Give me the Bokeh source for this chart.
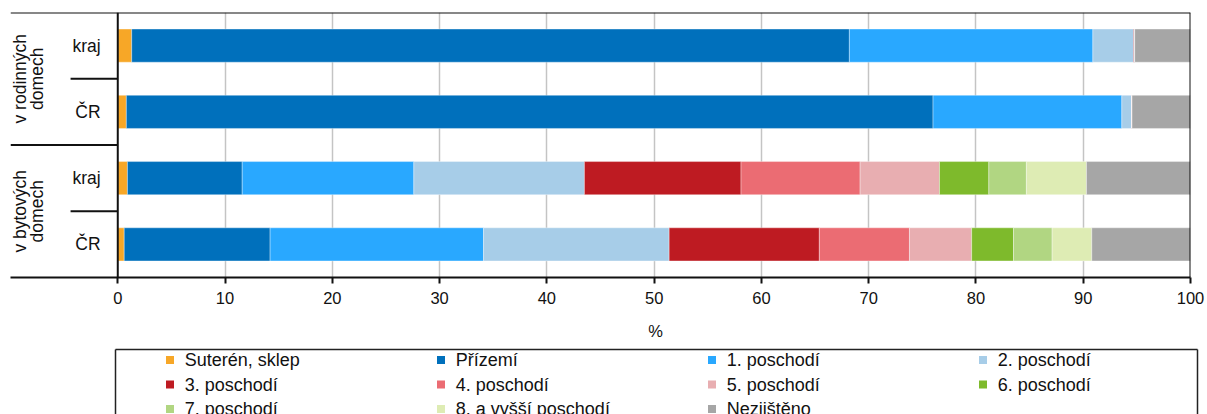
from bokeh.plotting import figure
from bokeh.layouts import column
from bokeh.models import ColumnDataSource, Range1d, FixedTicker, Span
from bokeh.core.properties import value
from bokeh.embed import file_html
from bokeh.resources import INLINE
from math import pi

FONT = "Liberation Sans"

# ---- data -------------------------------------------------------------
group_line1 = ["v rodinných", "v bytových"]
group_line2 = ["domech", "domech"]
subgroups = ["kraj", "ČR", "kraj", "ČR"]          # rows top -> bottom
series_names = ["Suterén, sklep", "Přízemí", "1. poschodí", "2. poschodí",
                "3. poschodí", "4. poschodí", "5. poschodí", "6. poschodí",
                "7. poschodí", "8. a vyšší poschodí", "Nezjištěno"]
suteren = [1.3, 0.8, 0.9, 0.6]
prizemi = [66.9, 75.2, 10.7, 13.6]
posch1 = [22.7, 17.6, 16.0, 19.9]
posch2 = [3.8, 0.9, 15.9, 17.3]
posch3 = [0.1, 0.05, 14.6, 14.0]
posch4 = [0.0, 0.0, 11.1, 8.4]
posch5 = [0.0, 0.0, 7.4, 5.8]
posch6 = [0.0, 0.0, 4.6, 3.9]
posch7 = [0.0, 0.0, 3.5, 3.6]
posch8 = [0.0, 0.0, 5.6, 3.7]
nezjisteno = [5.2, 5.45, 9.7, 9.2]
x_ticks = list(range(0, 101, 10))
x_title = "%"

colors = ["#F7A727", "#0070BC", "#29A8FF", "#A7CDE8", "#BE1B22", "#EB6C73",
          "#E8AEB1", "#7EBA2C", "#B1D682", "#DEECB4", "#A6A6A6"]
all_series = [suteren, prizemi, posch1, posch2, posch3, posch4, posch5,
              posch6, posch7, posch8, nezjisteno]

n = len(subgroups)
ys = [n - i - 0.5 for i in range(n)]
data = {"y": ys, "sub": subgroups}
keys = []
for k, s in enumerate(all_series):
    key = "s%d" % k
    keys.append(key)
    data[key] = s
source = ColumnDataSource(data)

W = 1207
H1 = 312
H2 = 414 - H1
DARK = "#111111"

# ---- main chart -------------------------------------------------------
p = figure(width=W, height=H1, output_backend="svg", toolbar_location=None,
           x_range=Range1d(-10, 100), y_range=Range1d(0, n),
           y_axis_location=None, min_border_left=10, min_border_right=17,
           min_border_top=12, min_border_bottom=35)
p.frame_align = False
p.outline_line_color = None
p.ygrid.visible = False
p.xgrid.ticker = FixedTicker(ticks=x_ticks[1:-1])
p.xgrid.grid_line_color = "#C4C4C4"
p.xgrid.grid_line_width = 1.5

p.hbar_stack(keys, y="y", height=0.5, color=colors, source=source,
             line_color="white", line_alpha=0.35, line_width=1)

ax = p.xaxis[0]
ax.ticker = FixedTicker(ticks=x_ticks)
ax.major_tick_out = 6
ax.major_tick_in = 0
ax.minor_tick_line_color = None
ax.axis_line_width = 2
ax.axis_line_color = DARK
ax.major_tick_line_width = 2
ax.major_tick_line_color = DARK
ax.major_label_standoff = 8
ax.major_label_text_font = FONT
ax.major_label_text_font_size = "16.5px"
ax.major_label_text_color = DARK

for loc, dim in [(n, "width"), (0, "height"), (100, "height")]:
    p.add_layout(Span(location=loc, dimension=dim, line_color=DARK,
                      line_width=2))

# separators of the category axis
sep_y = [3, 2, 1]
sep_x0 = [-4.4, -10, -4.4]
p.segment(x0=sep_x0, y0=sep_y, x1=[0, 0, 0], y1=sep_y,
          line_color=DARK, line_width=2)

p.text(x=-1.6, y="y", text="sub", source=source, text_align="right",
       text_baseline="middle", text_font=value(FONT),
       text_font_size="17.5px", text_color=DARK)

gy = [3, 1]
p.text(x=[-9.1] * 2, y=gy, text=group_line1, angle=pi / 2,
       text_align="center", text_baseline="middle", text_font=value(FONT),
       text_font_size="17.5px", text_color=DARK)
p.text(x=[-7.5] * 2, y=gy, text=group_line2, angle=pi / 2,
       text_align="center", text_baseline="middle", text_font=value(FONT),
       text_font_size="17.5px", text_color=DARK)

# ---- axis title + legend panel ----------------------------------------
lg = figure(width=W, height=H2, output_backend="svg", toolbar_location=None,
            x_range=Range1d(0, W), y_range=Range1d(H2, 0),
            x_axis_location=None, y_axis_location=None, min_border=0)
lg.frame_align = False
lg.outline_line_color = None
lg.grid.visible = False

lg.text(x=[655], y=[18], text=[x_title], text_align="center",
        text_baseline="middle", text_font=value(FONT),
        text_font_size="16.5px", text_color=DARK)

ncol = 4
sw_x = [169.5 + 271 * (i % ncol) for i in range(len(series_names))]
sw_y = [47.5 + 24.5 * (i // ncol) for i in range(len(series_names))]
lsrc = ColumnDataSource(dict(x=sw_x, y=sw_y, tx=[v + 14.8 for v in sw_x],
                             name=series_names, color=colors))
lg.rect(x="x", y="y", width=8, height=8, fill_color="color",
        line_color=None, source=lsrc)
lg.text(x="tx", y="y", text="name", source=lsrc, text_align="left",
        text_baseline="middle", text_font=value(FONT),
        text_font_size="18px", text_color=DARK)
lg.segment(x0=[115, 115, 1197], y0=[37, 37, 37], x1=[1197, 115, 1197],
           y1=[37, H2, H2], line_color="#222222", line_width=1.5)

layout = column(p, lg, spacing=0)
open("out.html", "w").write(file_html(layout, INLINE))
